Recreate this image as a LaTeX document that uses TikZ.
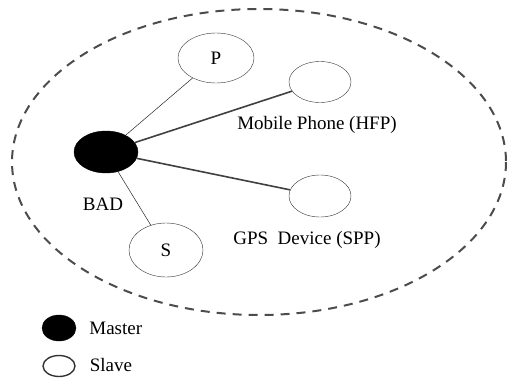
\documentclass[tikz,border=0pt]{standalone}
\usepackage{fontspec}
\setmainfont{Liberation Serif}
\usetikzlibrary{shapes.geometric, positioning}

\begin{document}
\begin{tikzpicture}[x=1pt, y=-1pt, font=\fontsize{19}{22}\selectfont,
    master/.style={ellipse, fill=black, draw=black, inner sep=0pt},
    slave/.style={ellipse, draw=black!80, thin, fill=white, inner sep=0pt},
    link/.style={draw=black!85, line width=0.5pt},
    strong link/.style={draw=black!75, line width=1.6pt},
    label/.style={inner sep=0pt, anchor=center}]

    \useasboundingbox (0,0) rectangle (509,378);

    % range of the piconet
    \draw[black!70, line width=2pt, dash pattern=on 9pt off 7pt] (259,162) ellipse [x radius=247, y radius=153];

    \node[master, minimum width=64pt, minimum height=42pt] (bad) at (106,152) {};
    \node[slave, minimum width=76pt, minimum height=50pt] (p) at (216,58) {P};
    \node[slave, minimum width=62pt, minimum height=41pt] (phone) at (320,82) {};
    \node[slave, minimum width=62pt, minimum height=42pt] (gps) at (320,196) {};
    \node[slave, minimum width=74pt, minimum height=54pt] (s) at (166,250) {S};

    \node[label] (badlabel) at (103,204) {BAD};
    \node[label] (phonelabel) at (317,125) {Mobile Phone (HFP)};
    \node[label] (gpslabel) at (307,240) {GPS~ Device (SPP)};

    \draw[link] (bad) -- (p);
    \draw[strong link] (bad) -- (phone);
    \draw[strong link] (bad) -- (gps);
    \draw[link] (bad) -- (s);

    % legend
    \node[master, minimum width=34pt, minimum height=26pt] (keymaster) at (59,328) {};
    \node[slave, line width=1.4pt, minimum width=32pt, minimum height=21pt] (keyslave) at (59,366) {};
    \node[right=13pt of keymaster, inner sep=0pt] (mastertext) {Master};
    \node[right=14pt of keyslave, inner sep=0pt, yshift=1pt] (slavetext) {Slave};
\end{tikzpicture}
\end{document}
